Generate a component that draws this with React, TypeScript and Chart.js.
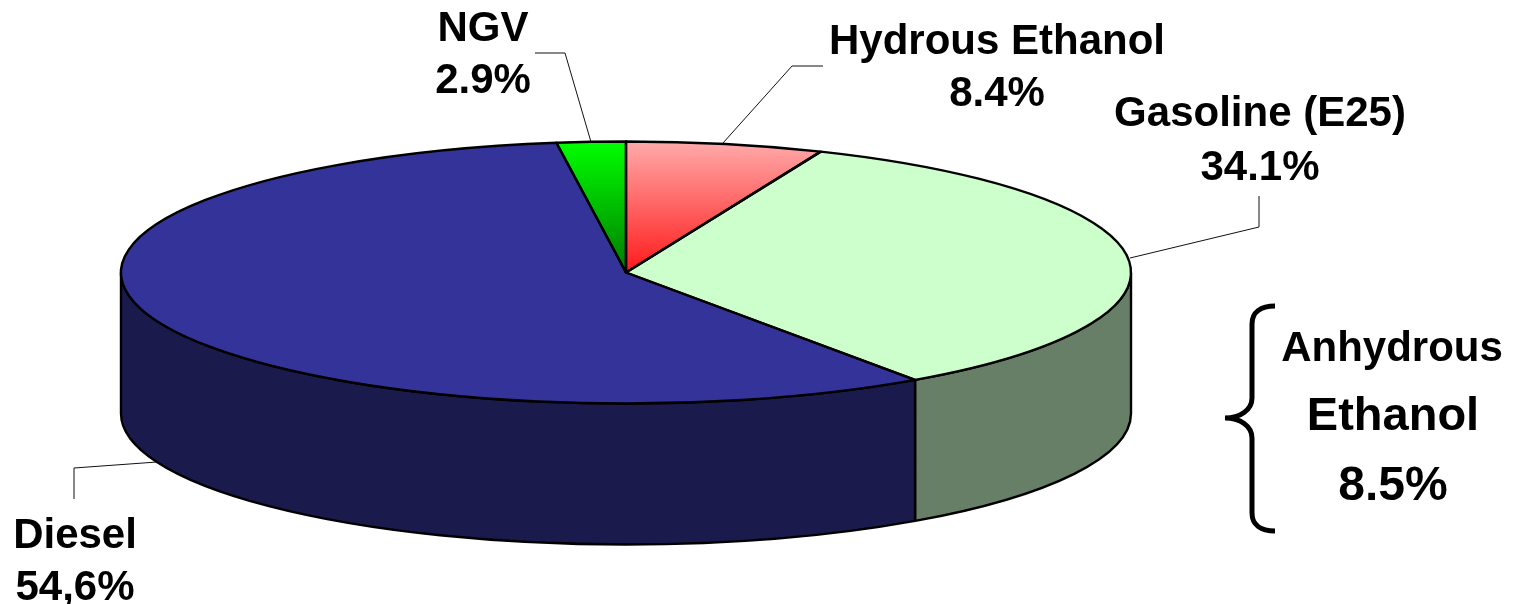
import React, { useEffect, useRef } from "react";
import { Chart, registerables } from "chart.js";

Chart.register(...registerables);

const categories = ["Hydrous Ethanol", "Gasoline (E25)", "Diesel", "NGV"];
// Percentages as printed on the labels of the reference.
const printedValues = ["8.4%", "34.1%", "54,6%", "2.9%"];
const anhydrousLines = ["Anhydrous", "Ethanol", "8.5%"];
// Slice shares as actually drawn in the reference, measured from the slice edges:
// the source's 3D pie does not draw its slices in proportion to the printed figures.
const drawnShares = [6.3, 34.0, 57.5, 2.2];
const topColors = ["#FFAAAA", "#CCFFCC", "#333399", "#00FF00"];
const gradientEnds = ["#FF1A1A", null, null, "#007A00"];
const wallColors = ["#7F5555", "#667F66", "#1A1A4C", "#007F00"];

const FONT = '"Liberation Sans", Arial, sans-serif';
const CX = 626;
const CY = 272.5;
const RX = 505;
const RY = 131;
const DEPTH = 141;

const labelLayout = [
  { x: 997, y1: 54, y2: 106 },
  { x: 1260, y1: 126, y2: 180 },
  { x: 75, y1: 548, y2: 600 },
  { x: 483, y1: 41, y2: 93 },
];
const leaderPaths = [
  [[823, 66], [792, 66], [723, 143]],
  [[1259, 196], [1259, 227], [1130, 258]],
  [[74, 499], [74, 468], [157, 462]],
  [[535, 53], [565, 53], [591, 142]],
];
const anhydrousLayout = [
  { x: 1392, y: 361, size: 42 },
  { x: 1393, y: 430, size: 47 },
  { x: 1393, y: 500, size: 48 },
];

const pie3d = {
  id: "pie3d",
  beforeDatasetsDraw(chart: any) {
    const ctx = chart.ctx;
    const arcs = chart.getDatasetMeta(0).data;
    // side walls, only the part of each slice that faces the viewer
    ctx.save();
    ctx.lineJoin = "round";
    arcs.forEach((arc: any, i: number) => {
      const a0 = Math.max(arc.startAngle, 0);
      const a1 = Math.min(arc.endAngle, Math.PI);
      if (a1 <= a0) return;
      ctx.beginPath();
      ctx.ellipse(CX, CY, RX, RY, 0, a0, a1);
      ctx.ellipse(CX, CY + DEPTH, RX, RY, 0, a1, a0, true);
      ctx.closePath();
      ctx.fillStyle = wallColors[i];
      ctx.fill();
      ctx.strokeStyle = "#000";
      ctx.lineWidth = 2.4;
      ctx.stroke();
    });
    ctx.restore();
    // squash the library's arcs onto the top ellipse
    const { x, y, outerRadius: R } = arcs[0];
    ctx.save();
    ctx.translate(CX, CY);
    ctx.scale(RX / R, RY / R);
    ctx.translate(-x, -y);
  },
  afterDatasetsDraw(chart: any) {
    const ctx = chart.ctx;
    ctx.restore();
    const arcs = chart.getDatasetMeta(0).data;
    ctx.save();
    ctx.lineJoin = "round";
    ctx.strokeStyle = "#000";
    ctx.lineWidth = 2.4;
    arcs.forEach((arc: any) => {
      ctx.beginPath();
      ctx.moveTo(CX, CY);
      ctx.ellipse(CX, CY, RX, RY, 0, arc.startAngle, arc.endAngle);
      ctx.closePath();
      ctx.stroke();
    });
    ctx.restore();
  },
  afterDraw(chart: any) {
    const ctx = chart.ctx;
    ctx.save();
    // leader lines
    ctx.strokeStyle = "#111";
    ctx.lineWidth = 1;
    leaderPaths.forEach((p) => {
      ctx.beginPath();
      p.forEach(([x, y], i) => (i ? ctx.lineTo(x, y) : ctx.moveTo(x, y)));
      ctx.stroke();
    });
    // brace
    ctx.strokeStyle = "#000";
    ctx.lineWidth = 5;
    ctx.lineCap = "butt";
    ctx.beginPath();
    ctx.moveTo(1275, 306);
    ctx.bezierCurveTo(1261, 306, 1252, 312, 1252, 324);
    ctx.lineTo(1252, 398);
    ctx.bezierCurveTo(1252, 410, 1240, 418, 1225, 418);
    ctx.bezierCurveTo(1240, 418, 1252, 426, 1252, 438);
    ctx.lineTo(1252, 513);
    ctx.bezierCurveTo(1252, 525, 1261, 531, 1275, 531);
    ctx.stroke();
    // labels
    ctx.fillStyle = "#000";
    ctx.textAlign = "center";
    ctx.textBaseline = "alphabetic";
    ctx.font = `bold 42px ${FONT}`;
    categories.forEach((name, i) => {
      const l = labelLayout[i];
      ctx.fillText(name, l.x, l.y1);
      ctx.fillText(printedValues[i], l.x, l.y2);
    });
    anhydrousLines.forEach((t, i) => {
      const l = anhydrousLayout[i];
      ctx.font = `bold ${l.size}px ${FONT}`;
      ctx.fillText(t, l.x, l.y);
    });
    ctx.restore();
  },
};

export default function App() {
  const ref = useRef<HTMLCanvasElement>(null);
  useEffect(() => {
    const chart = new Chart(ref.current as HTMLCanvasElement, {
      type: "pie",
      data: {
        labels: categories,
        datasets: [
          {
            data: drawnShares,
            borderWidth: 0,
            backgroundColor: (c: any) => {
              const i = c.dataIndex;
              const end = gradientEnds[i];
              const area = c.chart.chartArea;
              if (!end || !area) return topColors[i];
              const g = c.chart.ctx.createLinearGradient(0, area.top, 0, (area.top + area.bottom) / 2);
              g.addColorStop(0, topColors[i]);
              g.addColorStop(1, end);
              return g;
            },
          },
        ],
      },
      options: {
        responsive: false,
        animation: false,
        layout: { padding: 0 },
        plugins: { legend: { display: false }, tooltip: { enabled: false } },
      },
      plugins: [pie3d],
    } as any);
    return () => chart.destroy();
  }, []);
  return (
    <div style={{ position: "absolute", left: 0, top: 0, width: 1520, height: 604, background: "#fff" }}>
      <canvas ref={ref} width={1520} height={604} style={{ display: "block" }} />
    </div>
  );
}
